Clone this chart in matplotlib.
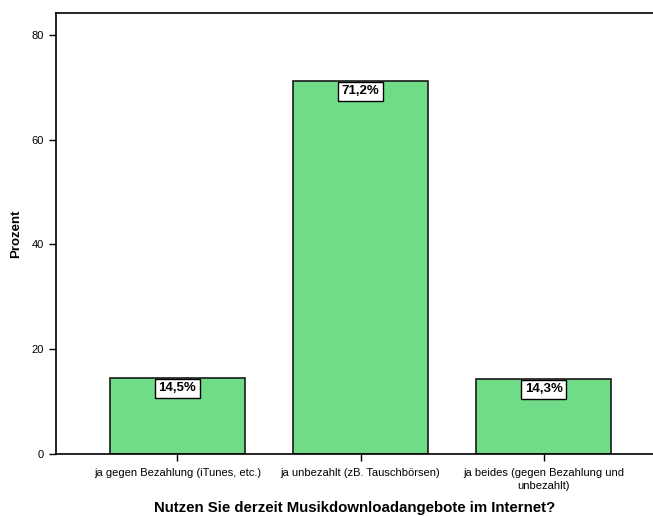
import matplotlib
matplotlib.use("Agg")
import matplotlib.pyplot as plt

plt.rcParams['font.family'] = ['Liberation Sans', 'DejaVu Sans']

categories = ["ja gegen Bezahlung (iTunes, etc.)",
              "ja unbezahlt (zB. Tauschbörsen)",
              "ja beides (gegen Bezahlung und\nunbezahlt)"]
values = [14.5, 71.2, 14.3]
labels = ["14,5%", "71,2%", "14,3%"]
yticks = [0, 20, 40, 60, 80]

fig = plt.figure(figsize=(6.53, 5.16), dpi=100)
ax = fig.add_axes([56/653, 1-454/516, 1-56/653, (454-13)/516])

x = list(range(len(categories)))
ax.bar(x, values, width=0.734, color="#70DC88", edgecolor="#1a1a1a", linewidth=1.2, zorder=2)

for xi, v, lab in zip(x, values, labels):
    ax.annotate(lab, (xi, v), xytext=(0, -3), textcoords="offset points",
                ha="center", va="top", fontsize=9.5, fontweight="bold",
                bbox=dict(boxstyle="square,pad=0.25", fc="white", ec="black", lw=1),
                zorder=3)

ax.set_xlim(-0.663, 2.597)
ax.set_ylim(0, 84.2)
ax.set_yticks(yticks)
ax.set_yticklabels([str(t) for t in yticks], fontsize=8)
ax.set_xticks(x)
ax.set_xticklabels(categories, fontsize=8, linespacing=1.45)
ax.tick_params(axis='both', length=5, width=1, color="black")
ax.tick_params(axis='x', pad=5)
ax.spines['right'].set_visible(False)
for s in ['left', 'top', 'bottom']:
    ax.spines[s].set_linewidth(1.2)

ax.set_ylabel("Prozent", fontsize=9.5, fontweight="bold", labelpad=7)
ax.set_xlabel("Nutzen Sie derzeit Musikdownloadangebote im Internet?", fontsize=10.8,
              fontweight="bold")
ax.xaxis.set_label_coords(0.5, -(501 - 454) / 441)

fig.savefig("out.png", dpi=100)
